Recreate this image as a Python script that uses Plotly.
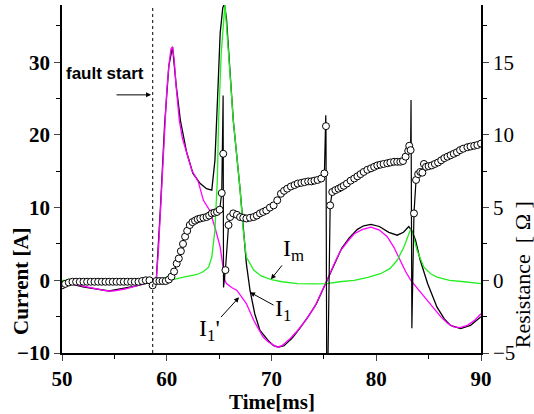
import plotly.graph_objects as go

# ---------------- data ----------------
# I1' (magenta), current [A]
t_i1p = [50.0, 51.0, 52.0, 53.0, 54.0, 54.5, 55.0, 56.0, 57.0, 58.0, 58.7, 59.0, 59.2, 59.4, 59.6,
         59.8, 60.0, 60.2, 60.4, 60.55, 60.7, 60.9, 61.2, 61.5, 61.9, 62.4, 63.0, 63.5, 64.1, 64.6,
         65.1, 65.55, 65.7, 66.2, 66.7, 67.1, 67.6, 68.3, 69.2, 69.7, 70.2, 70.55, 71.0, 71.8, 72.5,
         73.3, 74.1, 74.7, 75.3, 76.0, 76.6, 77.3, 77.9, 78.7, 79.5, 80.3, 81.05, 81.7, 82.3, 82.8,
         83.3, 84.0, 84.6, 85.4, 86.15, 86.8, 87.4, 88.0, 88.7, 89.4, 90.0]
i1p = [-0.2, -0.5, -0.9, -1.2, -1.4, -1.47, -1.45, -1.2, -0.8, -0.45, -0.2, 0.0, 4.0, 10.0, 16.0,
       21.5, 26.0, 29.5, 31.8, 32.1, 30.5, 26.6, 22.0, 19.5, 17.4, 15.1, 13.6, 11.0, 9.6, 7.3,
       4.6, 0.0, -0.45, -1.0, -1.4, -2.2, -3.2, -5.5, -7.8, -8.5, -8.9, -9.2, -9.0, -8.0, -6.9,
       -5.4, -3.7, -1.9, 0.0, 2.3, 4.1, 5.4, 6.4, 7.0, 7.3, 6.9, 6.0, 4.5, 2.75, 1.2,
       0.0, -1.2, -2.3, -3.7, -5.0, -5.9, -6.4, -6.5, -6.2, -5.5, -4.6]

# I1 (black), current [A]
t_i1 = [50.0, 52.0, 54.5, 57.0, 58.7, 59.0, 59.4, 59.8, 60.2, 60.55, 60.9, 61.3, 61.9, 62.5, 63.2,
        63.8, 64.3, 64.6, 64.85, 65.1, 65.35, 65.5, 65.7, 65.95, 66.35, 67.0, 67.3, 67.6, 67.95, 68.4,
        68.9, 69.7, 70.2, 70.7, 71.2, 72.0, 72.7, 73.5, 74.3, 75.3, 76.0, 76.7, 77.4, 78.2, 78.8,
        79.5, 80.3, 81.2, 82.0, 82.6, 83.1, 83.4, 83.75, 84.2, 84.9, 85.8, 86.5, 87.1, 88.05, 89.0,
        90.0]
i1 = [-0.2, -0.9, -1.47, -0.8, -0.2, 0.0, 10.0, 21.5, 29.5, 32.1, 26.8, 22.0, 17.6, 14.7, 13.3,
      12.6, 12.4, 16.5, 25.0, 34.0, 37.5, 38.0, 36.0, 31.0, 22.0, 12.5, 7.0, 2.3, -1.4, -4.6,
      -6.9, -8.3, -9.0, -9.2, -9.0, -7.9, -6.6, -5.0, -3.2, 0.0, 2.4, 4.4, 5.8, 7.0, 7.5,
      7.7, 7.4, 6.6, 6.2, 6.6, 7.4, 6.8, 5.5, 2.75, -0.45, -3.7, -5.3, -6.2, -6.65, -6.2,
      -5.0]

# Im (green), current [A]
t_im = [50.0, 55.0, 59.0, 60.6, 61.5, 62.3, 62.9, 63.5, 64.0, 64.3, 64.6, 64.83, 64.95, 65.2, 65.45,
        65.55, 65.9, 66.35, 67.0, 67.3, 67.6, 68.3, 69.0, 70.0, 71.0, 72.5, 74.0, 75.3, 76.5, 77.9,
        79.2, 80.4, 81.3, 82.0, 82.65, 83.0, 83.3, 83.55, 83.9, 84.55, 85.2, 85.8, 87.0, 88.4, 90.0]
im = [0.0, 0.0, 0.0, 0.1, 0.4, 0.6, 0.8, 1.2, 1.8, 3.2, 6.9, 13.8, 22.0, 31.2, 36.5,
      37.9, 31.2, 22.0, 12.5, 6.9, 3.2, 1.4, 0.6, 0.1, -0.2, -0.45, -0.5, -0.45, -0.2, 0.0,
      0.4, 0.9, 1.6, 2.75, 4.6, 6.0, 7.1, 6.0, 4.1, 1.8, 0.9, 0.45, 0.0, -0.2, -0.45]

# Resistance [Ohm] sample points (open circles)
t_res = [50.0, 50.3, 50.65, 51.0, 51.35, 51.7, 52.05, 52.4, 52.75, 53.1, 53.45, 53.8, 54.15, 54.5, 54.85,
         55.2, 55.55, 55.9, 56.25, 56.6, 56.95, 57.3, 57.65, 58.0, 58.35, 58.65, 59.0, 59.3, 59.6, 59.9,
         60.2, 60.45, 60.7, 60.95, 61.15, 61.35, 61.55, 61.75, 61.95, 62.2, 62.45, 62.7, 62.95, 63.2, 63.5,
         63.8, 64.05, 64.3, 64.55, 64.8, 65.05, 65.25, 65.39, 65.6, 65.9, 66.05, 66.35, 66.7, 67.0, 67.3,
         67.6, 67.95, 68.3, 68.6, 68.9, 69.2, 69.5, 69.85, 70.2, 70.55, 70.9, 71.2, 71.5, 71.85, 72.2,
         72.5, 72.85, 73.15, 73.5, 73.8, 74.1, 74.4, 74.75, 75.05, 75.2, 75.6, 75.8, 76.1, 76.4, 76.65,
         76.9, 77.2, 77.55, 77.9, 78.2, 78.5, 78.8, 79.15, 79.5, 79.8, 80.1, 80.4, 80.7, 81.05, 81.35,
         81.7, 82.0, 82.3, 82.55, 82.8, 83.05, 83.15, 83.28, 83.6, 83.8, 84.0, 84.2, 84.4, 84.55, 84.75,
         85.0, 85.3, 85.6, 85.9, 86.2, 86.5, 86.8, 87.1, 87.4, 87.7, 88.0, 88.3, 88.7, 89.0, 89.35,
         89.65, 90.0]
res = [-0.35, -0.25, -0.15, -0.1, -0.1, -0.1, -0.1, -0.1, -0.1, -0.1, -0.1, -0.1, -0.1, -0.1, -0.1,
       -0.1, -0.1, -0.1, -0.1, -0.1, -0.1, -0.1, -0.05, 0.0, 0.0, -0.35, -0.05, -0.05, -0.05, -0.05,
       0.05, 0.25, 0.6, 1.15, 1.5, 2.0, 2.5, 3.0, 3.4, 3.8, 4.0, 4.1, 4.2, 4.25, 4.3,
       4.35, 4.45, 4.6, 4.65, 4.7, 4.85, 6.0, 8.7, 0.7, 3.8, 4.35, 4.6, 4.5, 4.35, 4.3,
       4.25, 4.3, 4.35, 4.45, 4.6, 4.7, 4.8, 5.0, 5.15, 5.5, 5.95, 6.15, 6.3, 6.45, 6.55,
       6.65, 6.7, 6.75, 6.8, 6.8, 6.85, 6.9, 7.0, 7.35, 10.6, 5.15, 6.07, 6.2, 6.3, 6.4,
       6.5, 6.65, 6.85, 7.0, 7.15, 7.3, 7.45, 7.6, 7.7, 7.8, 7.9, 7.95, 8.0, 8.05, 8.1,
       8.15, 8.15, 8.15, 8.2, 8.5, 8.9, 9.25, 8.95, 4.6, 6.9, 7.3, 7.45, 7.4, 8.0, 7.8,
       7.85, 7.9, 8.0, 8.1, 8.25, 8.4, 8.5, 8.6, 8.7, 8.8, 8.95, 9.05, 9.15, 9.2, 9.25,
       9.3, 9.4]

# Resistance spike extremes (line only)
t_spike = [65.38, 65.42, 75.18, 75.27, 75.38, 83.32, 83.4]
spike = [12.7, -0.5, 11.35, -6.0, -6.0, 12.4, -3.3]

fault_time = 58.66

# ---------------- figure ----------------
res_line = sorted(zip(t_res + t_spike, res + spike))
t_res_line = [p[0] for p in res_line]
res_line_v = [p[1] for p in res_line]

fig = go.Figure()
fig.add_trace(go.Scatter(x=t_i1, y=i1, mode="lines", line=dict(color="black", width=1.3),
                         name="I1", showlegend=False))
fig.add_trace(go.Scatter(x=t_i1p, y=i1p, mode="lines", line=dict(color="#ff00ff", width=1.3),
                         name="I1'", showlegend=False))
fig.add_trace(go.Scatter(x=t_im, y=im, mode="lines", line=dict(color="#22ee22", width=1.3),
                         name="Im", showlegend=False))
fig.add_trace(go.Scatter(x=t_res_line, y=res_line_v, mode="lines", yaxis="y2",
                         line=dict(color="black", width=1.2), showlegend=False))
fig.add_trace(go.Scatter(x=t_res, y=res, mode="markers", yaxis="y2",
                         marker=dict(symbol="circle", size=7, color="white",
                                     line=dict(color="black", width=1)),
                         showlegend=False))

serif = "Liberation Serif, Times New Roman, serif"
fig.update_layout(
    width=534, height=414,
    margin=dict(l=62, r=53, t=5, b=61),
    paper_bgcolor="white", plot_bgcolor="white",
    xaxis=dict(range=[50, 90], tick0=50, dtick=10, ticks="outside", ticklen=6, tickwidth=1.2,
               showline=True, linecolor="black", linewidth=1.5, showgrid=False, zeroline=False,
               tickfont=dict(family=serif, size=21, color="black", weight="bold"),
               minor=dict(ticks="outside", ticklen=4, dtick=5, tickcolor="black")),
    yaxis=dict(range=[-10, 37.86], tick0=0, dtick=10, ticks="outside", ticklen=6, tickwidth=1.2,
               showline=True, linecolor="black", linewidth=1.5, showgrid=False, zeroline=False,
               tickfont=dict(family=serif, size=21, color="black", weight="bold"),
               minor=dict(ticks="outside", ticklen=4, dtick=5, tickcolor="black")),
    yaxis2=dict(range=[-5, 18.93], tick0=0, dtick=5, ticks="outside", ticklen=6, tickwidth=1.2,
                overlaying="y", side="right", anchor="x",
                showline=True, linecolor="black", linewidth=1.5, showgrid=False, zeroline=False,
                tickfont=dict(family=serif, size=21, color="black"),
                minor=dict(ticks="outside", ticklen=4, dtick=2.5, tickcolor="black")),
    shapes=[dict(type="line", xref="x", yref="paper", x0=fault_time, x1=fault_time, y0=0, y1=1,
                 line=dict(color="black", width=1, dash="dot"))],
)

ann = []
# axis titles
ann.append(dict(text="Time[ms]", xref="paper", yref="paper", x=0.5, y=-0.1, xanchor="center",
                yanchor="top", showarrow=False,
                font=dict(family=serif, size=21, color="black", weight="bold")))
ann.append(dict(text="Current [A]", xref="paper", x=-0.098, xanchor="center",
                yref="y", y=-0.1, yanchor="middle", textangle=-90, showarrow=False,
                font=dict(family=serif, size=21, color="black", weight="bold")))
ann.append(dict(text="Resistance  [ Ω ]", xref="paper", x=1.098, xanchor="center",
                yref="y", y=0.7, yanchor="middle", textangle=-90, showarrow=False,
                font=dict(family=serif, size=22, color="black")))
# fault start
ann.append(dict(text="<b>fault start</b>", x=54.15, y=28.5, xref="x", yref="y", showarrow=False,
                font=dict(family="Liberation Sans Narrow, Liberation Sans, Arial, sans-serif",
                          size=17, color="black")))
ann.append(dict(text="", x=58.5, y=25.5, xref="x", yref="y", ax=-36, ay=0, showarrow=True,
                arrowhead=2, arrowsize=1, arrowwidth=1, arrowcolor="black"))
# curve labels with arrows
lab_font = dict(family=serif, size=24, color="black")
ann.append(dict(text="I<sub>m</sub>", x=69.95, y=0.14, xref="x", yref="y", ax=23, ay=-29,
                showarrow=True, arrowhead=2, arrowsize=1, arrowwidth=1, arrowcolor="black",
                font=lab_font))
ann.append(dict(text="I<sub>1</sub>", x=67.95, y=-1.65, xref="x", yref="y", ax=33, ay=18,
                showarrow=True, arrowhead=2, arrowsize=1, arrowwidth=1, arrowcolor="black",
                font=lab_font))
ann.append(dict(text="I<sub>1</sub>'", x=66.9, y=-2.34, xref="x", yref="y", ax=-30, ay=33,
                showarrow=True, arrowhead=2, arrowsize=1, arrowwidth=1, arrowcolor="black",
                font=lab_font))
fig.update_layout(annotations=ann)

fig.write_html("out.html", config={"displayModeBar": False},
               post_script="document.body.style.margin='0';")
